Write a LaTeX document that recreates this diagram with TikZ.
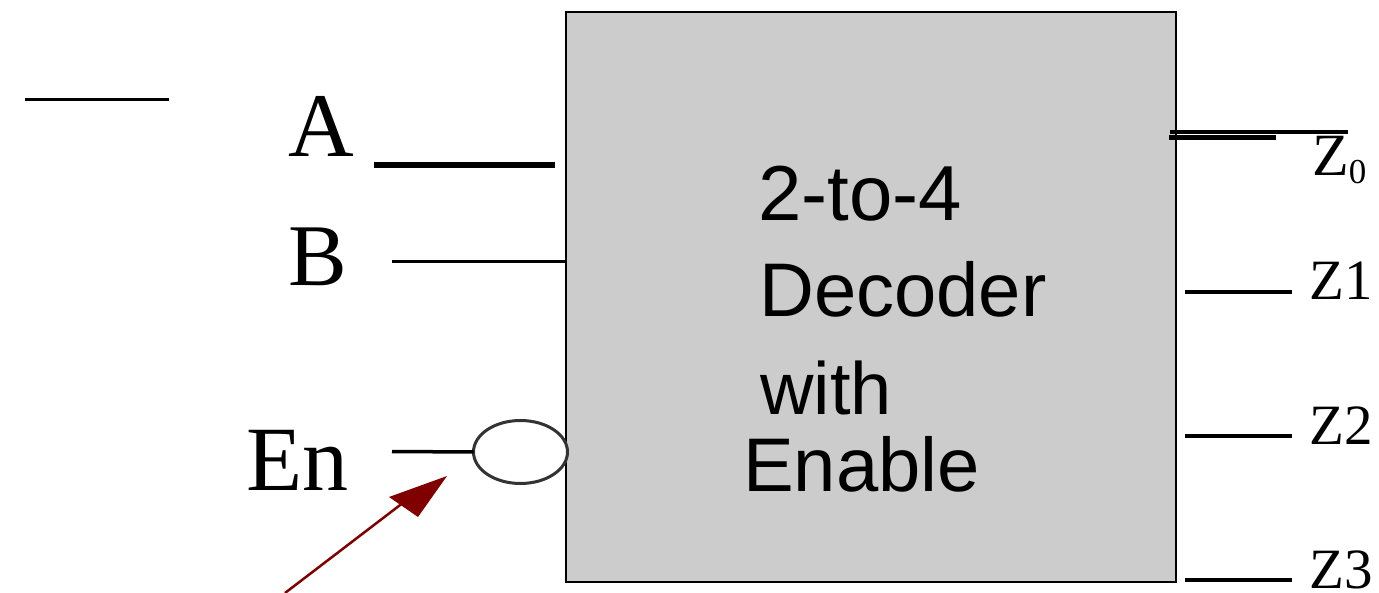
\documentclass[tikz,border=0pt]{standalone}
\usepackage{fontspec}
\usetikzlibrary{shapes.geometric}
\setmainfont{Liberation Serif}
\newfontfamily\sansf{Liberation Sans}
\definecolor{boxgray}{HTML}{CCCCCC}
\definecolor{darkred}{HTML}{800000}
\newcommand{\fs}[1]{\fontsize{#1}{#1}\selectfont}
\begin{document}
\begin{tikzpicture}[x=1pt,y=-1pt,
  wire/.style={draw=black,line width=3pt},
  wirethick/.style={draw=black,line width=6pt},
  wiremid/.style={draw=black,line width=4.5pt},
  lab/.style={inner sep=0pt,anchor=base west,font=\fs{91}},
  zlab/.style={inner sep=0pt,anchor=base west,font=\fs{57}},
  boxlab/.style={inner sep=0pt,anchor=base west,font=\sansf\fs{76}}]
\useasboundingbox (0,0) rectangle (1379,593);
\node[draw=black,line width=2pt,fill=boxgray,minimum width=610pt,minimum height=570pt,inner sep=0pt,outer sep=0pt,anchor=north west] (box) at (566,12) {};
\coordinate (t1) at (25,99.5); \coordinate (t2) at (169,99.5);
\draw[wire,line width=3.5pt] (t1) -- (t2);
\node[lab] (A) at (288,157) {A};
\node[lab,font=\fs{88}] (B) at (288,286) {B};
\node[lab,font=\fs{92}] (En) at (246,490) {En};
\coordinate (a1) at (374,165); \coordinate (a2) at (555,165);
\draw[wirethick] (a1) -- (a2);
\coordinate (b1) at (392,262); \coordinate (b2) at (566,262);
\draw[wire] (b1) -- (b2);
\node[draw=black!80,line width=3pt,fill=white,ellipse,minimum width=94pt,minimum height=63pt,inner sep=0pt,outer sep=0pt] (bub) at (520.5,452) {};
\coordinate (e1) at (392,451.5);
\draw[wire,line width=3.5pt] (e1) -- (bub.west);
\coordinate (z0a) at (1170,132); \coordinate (z0b) at (1348,132);
\draw[wire,line width=3.5pt] (z0a) -- (z0b);
\coordinate (z0c) at (1169,137.5); \coordinate (z0d) at (1276,137.5);
\draw[wiremid] (z0c) -- (z0d);
\coordinate (z1a) at (1185,292); \coordinate (z1b) at (1292,292);
\draw[wiremid] (z1a) -- (z1b);
\coordinate (z2a) at (1185,436); \coordinate (z2b) at (1292,436);
\draw[wiremid] (z2a) -- (z2b);
\coordinate (z3a) at (1185,580); \coordinate (z3b) at (1292,580);
\draw[wiremid] (z3a) -- (z3b);
\node[zlab,font=\fs{60}] (z0) at (1312,176) {Z\raisebox{-8pt}{\fs{35}0}};
\node[zlab] (z1) at (1309,300) {Z1};
\node[zlab] (z2) at (1309,444) {Z2};
\node[zlab] (z3) at (1309,588) {Z3};
\node[boxlab,font=\sansf\fs{78}] (l1) at (758,221) {2-to-4};
\node[boxlab] (l2) at (759,317) {Decoder};
\node[boxlab,font=\sansf\fs{74}] (l3) at (760,415) {with};
\node[boxlab] (l4) at (743,491) {Enable};
\coordinate (ar1) at (285,593); \coordinate (ar2) at (408,499);
\draw[draw=darkred,line width=2.5pt] (ar1) -- (ar2);
\coordinate (h1) at (447,476); \coordinate (h2) at (389,497); \coordinate (h3) at (418,517);
\fill[darkred] (h1) -- (h2) -- (h3) -- cycle;
\end{tikzpicture}
\end{document}
